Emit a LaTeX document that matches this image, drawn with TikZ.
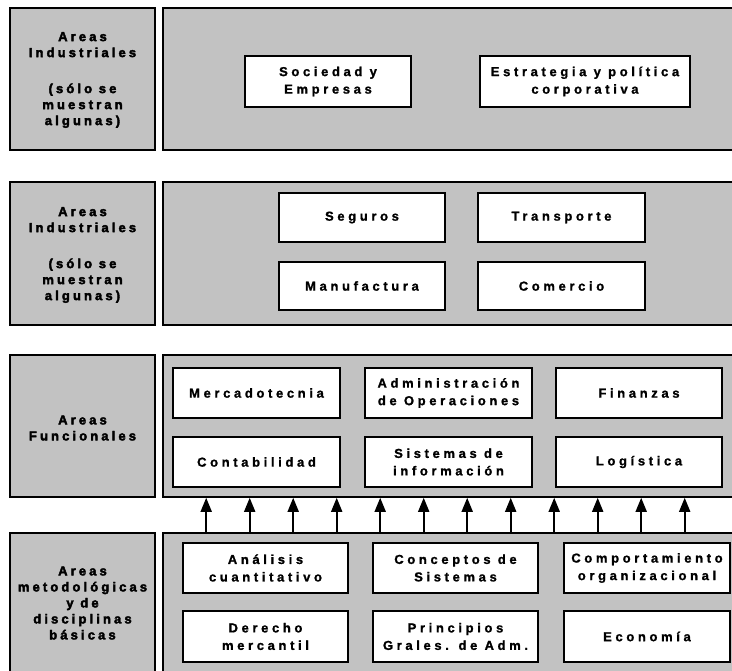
\documentclass[tikz,border=0pt]{standalone}
\usepackage{fontspec}
\setmainfont{Liberation Sans}
\newfontfamily\boxfont{Liberation Sans Bold}[LetterSpace=28, FakeBold=1.2]
\newfontfamily\heavyfont{Liberation Sans Bold}[LetterSpace=24, FakeBold=3]
\usetikzlibrary{arrows.meta}
\definecolor{shade}{gray}{0.76}
\tikzset{
  outer/.style={draw=black, line width=1.6pt, fill=shade, inner sep=0pt},
  ibox/.style={draw=black, line width=2.2pt, fill=white, align=center, inner sep=0pt,
    font=\boxfont\fontsize{13}{17.5}\selectfont},
  lbl/.style={align=center, inner sep=0pt, font=\heavyfont\fontsize{13}{16}\selectfont},
  arr/.style={line width=1.8pt, -{Triangle[width=11pt,length=14pt]}},
}
\begin{document}
\begin{tikzpicture}[x=1pt,y=-1pt]
\useasboundingbox (0,0) rectangle (732,671);
% left label boxes
\node[outer, minimum width=145pt, minimum height=142pt] (L1) at (82.5,79) {};
\node[outer, minimum width=145pt, minimum height=143pt] (L2) at (82.5,253.5) {};
\node[outer, minimum width=145pt, minimum height=142pt] (L3) at (82.5,426) {};
\node[outer, minimum width=145pt, minimum height=157pt] (L4) at (82.5,611.5) {};
% right content boxes
\node[outer, minimum width=582pt, minimum height=142pt] (R1) at (454,79) {};
\node[outer, minimum width=582pt, minimum height=143pt] (R2) at (454,253.5) {};
\node[outer, minimum width=582pt, minimum height=142pt] (R3) at (454,426) {};
\node[outer, minimum width=582pt, minimum height=157pt] (R4) at (454,611.5) {};
% labels
\node[lbl] (lab1) at (82.5,80) {Areas\\Industriales\\[20pt](sólo se\\muestran\\algunas)};
\node[lbl] (lab2) at (82.5,255) {Areas\\Industriales\\[20pt](sólo se\\muestran\\algunas)};
\node[lbl] (lab3) at (82.5,428) {Areas\\Funcionales};
\node[lbl] (lab4) at (82.5,603) {Areas\\metodológicas\\y de\\disciplinas\\básicas};
% row 1
\node[ibox, minimum width=166pt, minimum height=51pt] (s1) at (328,81.5) {Sociedad y\\Empresas};
\node[ibox, minimum width=210pt, minimum height=51pt] (s2) at (585,81.5) {Estrategia y política\\corporativa};
% row 2
\node[ibox, minimum width=166pt, minimum height=49pt] (i1) at (362,217.5) {Seguros};
\node[ibox, minimum width=167pt, minimum height=49pt] (i2) at (561.5,217.5) {Transporte};
\node[ibox, minimum width=166pt, minimum height=48pt] (i3) at (362,286) {Manufactura};
\node[ibox, minimum width=167pt, minimum height=48pt] (i4) at (561.5,286) {Comercio};
% row 3
\node[ibox, minimum width=167pt, minimum height=50pt] (f1) at (256.5,393) {Mercadotecnia};
\node[ibox, minimum width=167pt, minimum height=50pt] (f2) at (448.5,393) {Administración\\de Operaciones};
\node[ibox, minimum width=166pt, minimum height=50pt] (f3) at (639,393) {Finanzas};
\node[ibox, minimum width=167pt, minimum height=50pt] (f4) at (256.5,462) {Contabilidad};
\node[ibox, minimum width=167pt, minimum height=50pt] (f5) at (448.5,462) {Sistemas de\\información};
\node[ibox, minimum width=166pt, minimum height=50pt] (f6) at (639,462) {Logística};
% row 4
\node[ibox, minimum width=165pt, minimum height=50pt] (m1) at (265.5,568) {Análisis\\cuantitativo};
\node[ibox, minimum width=165pt, minimum height=50pt] (m2) at (455.5,568) {Conceptos de\\Sistemas};
\node[ibox, minimum width=166pt, minimum height=50pt] (m3) at (647,568) {Comportamiento\\organizacional};
\node[ibox, minimum width=165pt, minimum height=51pt] (m4) at (265.5,636.5) {Derecho\\mercantil};
\node[ibox, minimum width=165pt, minimum height=51pt] (m5) at (455.5,636.5) {Principios\\Grales. de Adm.};
\node[ibox, minimum width=166pt, minimum height=51pt] (m6) at (647,636.5) {Economía};
% arrows
\foreach \k in {0,...,11}{
  \draw[arr] ([xshift={44pt+43.5pt*\k}]R4.north west) -- ([xshift={44pt+43.5pt*\k}]R3.south west);
}
\end{tikzpicture}
\end{document}
